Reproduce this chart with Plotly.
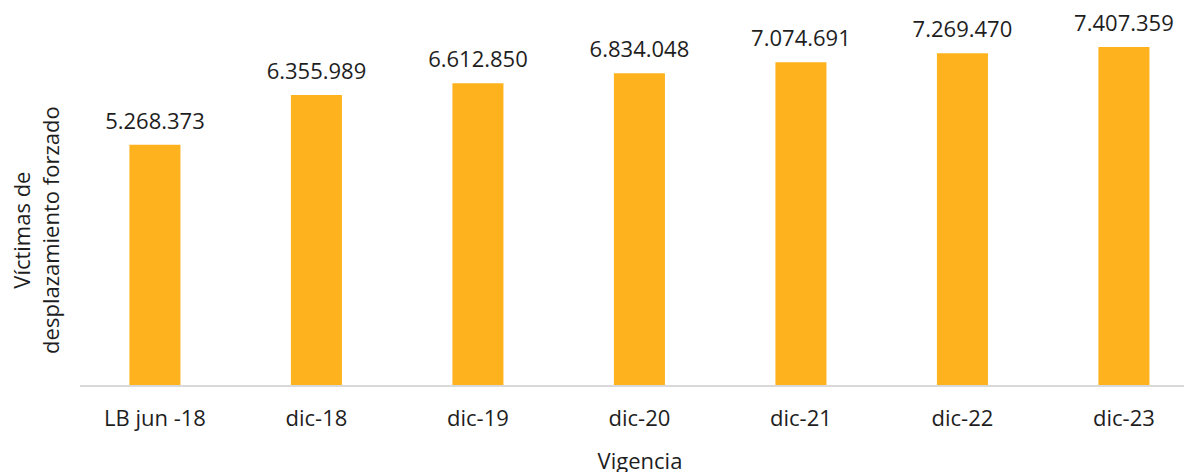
import plotly.graph_objects as go

categorias = ["LB jun -18", "dic-18", "dic-19", "dic-20", "dic-21", "dic-22", "dic-23"]
victimas = [5268373, 6355989, 6612850, 6834048, 7074691, 7269470, 7407359]
titulo_y = "Víctimas de<br>desplazamiento forzado"
titulo_x = "Vigencia"

FONT = "'Open Sans', 'Noto Sans', sans-serif"
TXT = "#1E1E1E"
FS = 22

fig = go.Figure()
fig.add_trace(go.Bar(
    x=categorias, y=victimas,
    marker=dict(color="#FDB21E", line=dict(width=0)),
    hoverinfo="x+y",
))
fig.add_trace(go.Scatter(
    x=categorias, y=victimas, mode="markers+text",
    marker=dict(size=15, opacity=0),
    texttemplate="%{y:,.0f}", textposition="top center",
    textfont=dict(family=FONT, size=FS, color=TXT),
    cliponaxis=False, hoverinfo="skip",
))

fig.update_layout(
    width=1192, height=472,
    margin=dict(l=72, r=0, t=12, b=95),
    plot_bgcolor="white", paper_bgcolor="white",
    separators=",.",
    bargap=0.684,
    showlegend=False,
    font=dict(family=FONT, size=FS, color=TXT),
    annotations=[dict(
        text=titulo_y, textangle=-90, showarrow=False,
        xref="paper", yref="paper", x=0, y=0.425,
        xanchor="center", yanchor="middle", xshift=-44,
        font=dict(family=FONT, size=FS, color=TXT),
    )],
)
fig.update_xaxes(
    range=[-0.464, 6.471],
    showline=True, linecolor="#D9D9D9", linewidth=2,
    ticks="", ticklabelstandoff=13, tickfont=dict(size=FS, color=TXT),
    title=dict(text=titulo_x, font=dict(size=FS, color=TXT), standoff=22),
    showgrid=False,
)
fig.update_yaxes(
    range=[0, 8.0e6], showticklabels=False, showgrid=False, zeroline=False,
)

fig.write_html("out.html")
